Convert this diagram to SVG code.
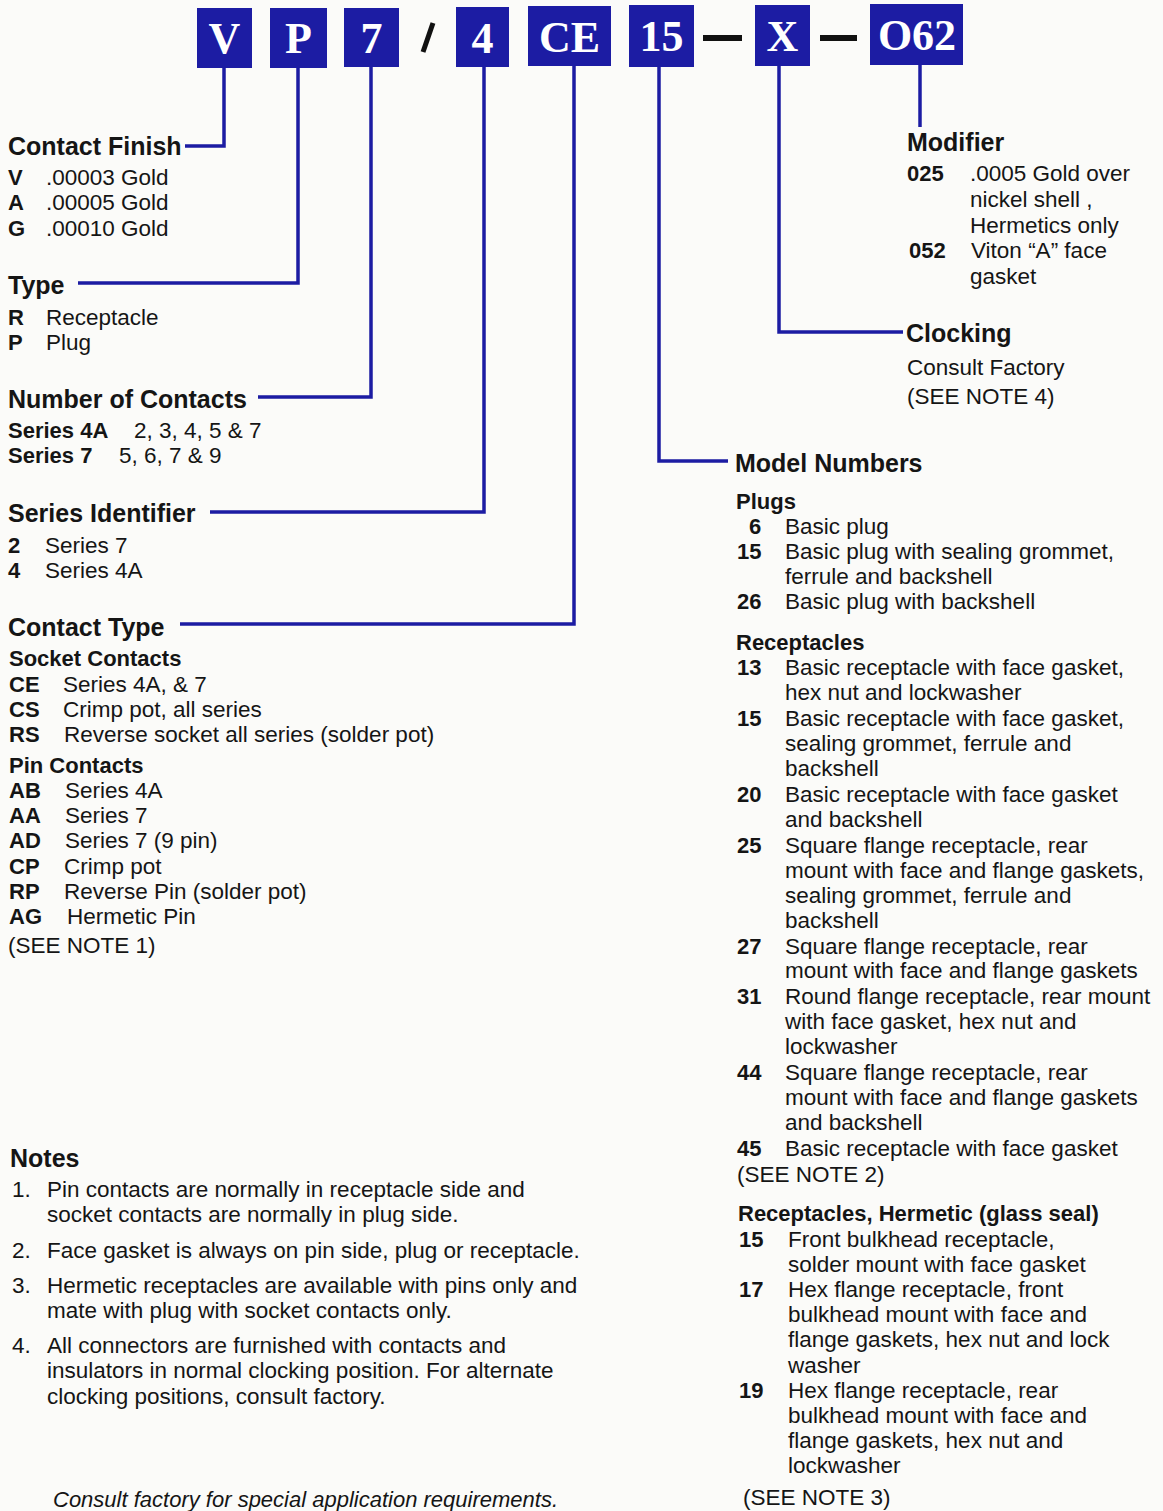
<svg xmlns="http://www.w3.org/2000/svg" width="1163" height="1511" viewBox="0 0 1163 1511">
<style>
text{font-family:"Liberation Sans",Arial,sans-serif;fill:#151515}
.h{font-size:25px;font-weight:bold}
.sh{font-size:22px;font-weight:bold}
.b{font-size:22.5px}
.c{font-size:22px;font-weight:bold}
.it{font-size:22px;font-style:italic}
.box{fill:#1c1ca3}
.bt{font-family:"Liberation Serif","DejaVu Serif",serif;font-size:44px;font-weight:bold;fill:#ffffff;text-anchor:middle}
.sep{fill:#111}
.ln{fill:none;stroke:#1c1ca3;stroke-width:3.5}
</style>
<rect width="1163" height="1511" fill="#fbfbf9"/>

<g id="connectors">
<path class="ln" d="M224,66 V146 H185"/>
<path class="ln" d="M298,66 V283 H78"/>
<path class="ln" d="M371,66 V397 H258"/>
<path class="ln" d="M484,66 V512 H210"/>
<path class="ln" d="M574,66 V624 H180"/>
<path class="ln" d="M659,66 V461 H728"/>
<path class="ln" d="M779,66 V332 H903"/>
<path class="ln" d="M920,64 V127"/>
</g>

<g id="code-V"><rect class="box" x="197" y="8" width="55" height="60"/><text class="bt" x="224.5" y="53">V</text></g>
<g id="code-P"><rect class="box" x="270" y="8" width="57" height="60"/><text class="bt" x="298.5" y="53">P</text></g>
<g id="code-7"><rect class="box" x="344" y="8" width="55" height="59"/><text class="bt" x="371.5" y="53">7</text></g>
<g id="sep-slash"><path d="M433,23 L423,52" stroke="#111" stroke-width="5" fill="none"/></g>
<g id="code-4"><rect class="box" x="456" y="7" width="53" height="60"/><text class="bt" x="482.5" y="53">4</text></g>
<g id="code-CE"><rect class="box" x="528" y="6" width="83" height="60"/><text class="bt" x="569.5" y="52">CE</text></g>
<g id="code-15"><rect class="box" x="629" y="5" width="65" height="62"/><text class="bt" x="661.5" y="51">15</text></g>
<g id="sep-dash1"><rect class="sep" x="703" y="35" width="39" height="6"/></g>
<g id="code-X"><rect class="box" x="755" y="5" width="55" height="61"/><text class="bt" x="782.5" y="51">X</text></g>
<g id="sep-dash2"><rect class="sep" x="820" y="35" width="37" height="6"/></g>
<g id="code-O62"><rect class="box" x="870" y="4" width="93" height="61"/><text class="bt" x="917" y="50">O62</text></g>

<g id="contact-finish">
<text class="h" x="8" y="155">Contact Finish</text>
<text class="c" x="8" y="185">V</text><text class="b" x="46" y="185">.00003 Gold</text>
<text class="c" x="8" y="210">A</text><text class="b" x="46" y="210">.00005 Gold</text>
<text class="c" x="8" y="236">G</text><text class="b" x="46" y="236">.00010 Gold</text>
</g>

<g id="type">
<text class="h" x="8" y="294">Type</text>
<text class="c" x="8" y="325">R</text><text class="b" x="46" y="325">Receptacle</text>
<text class="c" x="8" y="350">P</text><text class="b" x="46" y="350">Plug</text>
</g>

<g id="number-of-contacts">
<text class="h" x="8" y="408">Number of Contacts</text>
<text class="c" x="8" y="438">Series 4A</text><text class="b" x="134" y="438">2, 3, 4, 5 &amp; 7</text>
<text class="c" x="8" y="463">Series 7</text><text class="b" x="119" y="463">5, 6, 7 &amp; 9</text>
</g>

<g id="series-identifier">
<text class="h" x="8" y="522">Series Identifier</text>
<text class="c" x="8" y="553">2</text><text class="b" x="45" y="553">Series 7</text>
<text class="c" x="8" y="578">4</text><text class="b" x="45" y="578">Series 4A</text>
</g>

<g id="contact-type">
<text class="h" x="8" y="636">Contact Type</text>
<text class="sh" x="9" y="666">Socket Contacts</text>
<text class="c" x="9" y="692">CE</text><text class="b" x="63" y="692">Series 4A, &amp; 7</text>
<text class="c" x="9" y="717">CS</text><text class="b" x="63" y="717">Crimp pot, all series</text>
<text class="c" x="9" y="742">RS</text><text class="b" x="64" y="742">Reverse socket all series (solder pot)</text>
<text class="sh" x="9" y="773">Pin Contacts</text>
<text class="c" x="9" y="798">AB</text><text class="b" x="65" y="798">Series 4A</text>
<text class="c" x="9" y="823">AA</text><text class="b" x="65" y="823">Series 7</text>
<text class="c" x="9" y="848">AD</text><text class="b" x="65" y="848">Series 7 (9 pin)</text>
<text class="c" x="9" y="874">CP</text><text class="b" x="64" y="874">Crimp pot</text>
<text class="c" x="9" y="899">RP</text><text class="b" x="64" y="899">Reverse Pin (solder pot)</text>
<text class="c" x="9" y="924">AG</text><text class="b" x="67" y="924">Hermetic Pin</text>
<text class="b" x="8" y="953">(SEE NOTE 1)</text>
</g>

<g id="modifier">
<text class="h" x="907" y="151">Modifier</text>
<text class="c" x="907" y="181">025</text><text class="b" x="970" y="181">.0005 Gold over</text>
<text class="b" x="970" y="207">nickel shell ,</text>
<text class="b" x="970" y="233">Hermetics only</text>
<text class="c" x="909" y="258">052</text><text class="b" x="971" y="258">Viton “A” face</text>
<text class="b" x="970" y="284">gasket</text>
</g>

<g id="clocking">
<text class="h" x="906" y="342">Clocking</text>
<text class="b" x="907" y="375">Consult Factory</text>
<text class="b" x="907" y="404">(SEE NOTE 4)</text>
</g>

<g id="model-numbers">
<text class="h" x="735" y="472">Model Numbers</text>
<text class="sh" x="736" y="509">Plugs</text>
<text class="c" x="749" y="534">6</text><text class="b" x="785" y="534">Basic plug</text>
<text class="c" x="737" y="559">15</text><text class="b" x="785" y="559">Basic plug with sealing grommet,</text>
<text class="b" x="785" y="584">ferrule and backshell</text>
<text class="c" x="737" y="609">26</text><text class="b" x="785" y="609">Basic plug with backshell</text>
<text class="sh" x="736" y="650">Receptacles</text>
<text class="c" x="737" y="675">13</text><text class="b" x="785" y="675">Basic receptacle with face gasket,</text>
<text class="b" x="785" y="700">hex nut and lockwasher</text>
<text class="c" x="737" y="726">15</text><text class="b" x="785" y="726">Basic receptacle with face gasket,</text>
<text class="b" x="785" y="751">sealing grommet, ferrule and</text>
<text class="b" x="785" y="776">backshell</text>
<text class="c" x="737" y="802">20</text><text class="b" x="785" y="802">Basic receptacle with face gasket</text>
<text class="b" x="785" y="827">and backshell</text>
<text class="c" x="737" y="853">25</text><text class="b" x="785" y="853">Square flange receptacle, rear</text>
<text class="b" x="785" y="878">mount with face and flange gaskets,</text>
<text class="b" x="785" y="903">sealing grommet, ferrule and</text>
<text class="b" x="785" y="928">backshell</text>
<text class="c" x="737" y="954">27</text><text class="b" x="785" y="954">Square flange receptacle, rear</text>
<text class="b" x="785" y="978">mount with face and flange gaskets</text>
<text class="c" x="737" y="1004">31</text><text class="b" x="785" y="1004">Round flange receptacle, rear mount</text>
<text class="b" x="785" y="1029">with face gasket, hex nut and</text>
<text class="b" x="785" y="1054">lockwasher</text>
<text class="c" x="737" y="1080">44</text><text class="b" x="785" y="1080">Square flange receptacle, rear</text>
<text class="b" x="785" y="1105">mount with face and flange gaskets</text>
<text class="b" x="785" y="1130">and backshell</text>
<text class="c" x="737" y="1156">45</text><text class="b" x="785" y="1156">Basic receptacle with face gasket</text>
<text class="b" x="737" y="1182">(SEE NOTE 2)</text>
<text class="sh" x="738" y="1221">Receptacles, Hermetic (glass seal)</text>
<text class="c" x="739" y="1247">15</text><text class="b" x="788" y="1247">Front bulkhead receptacle,</text>
<text class="b" x="788" y="1272">solder mount with face gasket</text>
<text class="c" x="739" y="1297">17</text><text class="b" x="788" y="1297">Hex flange receptacle, front</text>
<text class="b" x="788" y="1322">bulkhead mount with face and</text>
<text class="b" x="788" y="1347">flange gaskets, hex nut and lock</text>
<text class="b" x="788" y="1373">washer</text>
<text class="c" x="739" y="1398">19</text><text class="b" x="788" y="1398">Hex flange receptacle, rear</text>
<text class="b" x="788" y="1423">bulkhead mount with face and</text>
<text class="b" x="788" y="1448">flange gaskets, hex nut and</text>
<text class="b" x="788" y="1473">lockwasher</text>
<text class="b" x="743" y="1505">(SEE NOTE 3)</text>
</g>

<g id="notes">
<text class="h" x="10" y="1167">Notes</text>
<text class="b" x="12" y="1197">1.</text><text class="b" x="47" y="1197">Pin contacts are normally in receptacle side and</text>
<text class="b" x="47" y="1222">socket contacts are normally in plug side.</text>
<text class="b" x="12" y="1258">2.</text><text class="b" x="47" y="1258">Face gasket is always on pin side, plug or receptacle.</text>
<text class="b" x="12" y="1293">3.</text><text class="b" x="47" y="1293">Hermetic receptacles are available with pins only and</text>
<text class="b" x="47" y="1318">mate with plug with socket contacts only.</text>
<text class="b" x="12" y="1353">4.</text><text class="b" x="47" y="1353">All connectors are furnished with contacts and</text>
<text class="b" x="47" y="1378">insulators in normal clocking position. For alternate</text>
<text class="b" x="47" y="1404">clocking positions, consult factory.</text>
</g>

<g id="footer">
<text class="it" x="53" y="1507">Consult factory for special application requirements.</text>
</g>
</svg>
